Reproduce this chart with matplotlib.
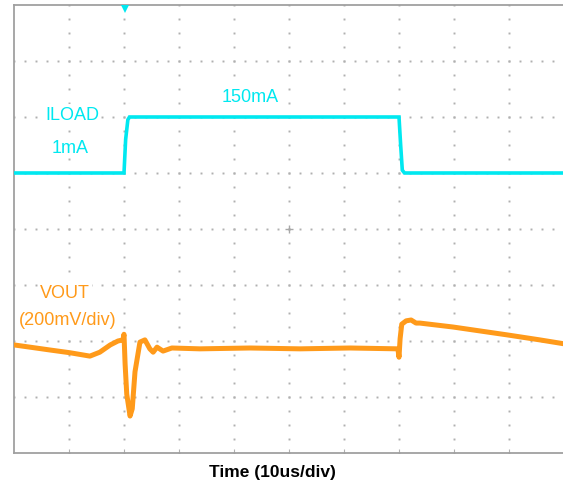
import numpy as np
import matplotlib
matplotlib.use("Agg")
import matplotlib.pyplot as plt

plt.rcParams['font.family'] = ['Liberation Sans', 'DejaVu Sans']

# Time axis in microseconds (10 us/div, 10 divisions)
iload_t = [0.0, 20.0, 20.3, 20.7, 21.0, 70.0, 70.3, 70.6, 71.0, 100.0]
# ILOAD trace in screen divisions (low = 1 mA, high = 150 mA)
iload_v = [5.0, 5.0, 5.6, 5.95, 6.0, 6.0, 5.5, 5.05, 5.0, 5.0]

vout_t = [0.0, 2.9, 6.5, 10.2, 13.8, 15.6, 17.5, 18.9, 19.8, 20.0, 20.2, 20.5,
          21.1, 21.5, 22.0, 22.9, 23.8, 24.7, 25.3, 26.0, 27.1, 28.7, 33.8,
          42.9, 52.0, 61.1, 69.8, 70.0, 70.2, 70.5, 71.3, 72.2, 73.1, 73.8,
          79.8, 89.6, 95.6, 100.0]
# VOUT trace in screen divisions (200 mV/div)
vout_v = [1.93, 1.89, 1.84, 1.79, 1.73, 1.80, 1.93, 2.00, 2.02, 2.12, 1.59, 1.05,
          0.66, 0.79, 1.45, 1.98, 2.02, 1.86, 1.80, 1.89, 1.82, 1.875, 1.86,
          1.875, 1.86, 1.875, 1.86, 1.71, 2.04, 2.30, 2.36, 2.375, 2.32, 2.32,
          2.25, 2.11, 2.02, 1.95]

labels = {
    "150mA": (42.9, 6.375, '#00E8F0'),
    "ILOAD": (10.7, 6.05, '#00E8F0'),
    "1mA": (10.2, 5.45, '#00E8F0'),
    "VOUT": (9.3, 2.86, '#FF9A1A'),
    "(200mV/div)": (9.8, 2.39, '#FF9A1A'),
}
xlabel = "Time (10us/div)"

W, H = 563, 485
fig = plt.figure(figsize=(W / 100, H / 100), dpi=100)
ax = fig.add_axes([14 / W, (H - 454) / H, 550 / W, 448 / H])
ax.set_xlim(0, 100)
ax.set_ylim(0, 8)
ax.set_xticks([])
ax.set_yticks([])
for s in ['left', 'top', 'bottom']:
    ax.spines[s].set_color('#a0a0a0')
    ax.spines[s].set_linewidth(1.3)
ax.spines['right'].set_visible(False)

# dotted graticule
dot = dict(ls='none', marker='s', ms=1.4, mew=0, color='#b0b0b0', zorder=1)
xs = np.arange(0, 100.01, 2)
for gy in range(1, 8):
    ax.plot(xs, np.full_like(xs, gy), **dot)
ys = np.arange(0, 8.01, 0.25)
for gx in range(10, 100, 10):
    ax.plot(np.full_like(ys, gx), ys, **dot)
# small center cross and bottom ticks
ax.plot([50.0], [4.0], ls='none', marker='+', ms=6, mew=1.0, color='#a8a8a8', zorder=1)
ax.plot(np.arange(10, 100, 10), np.full(9, 0.04), ls='none', marker='|', ms=3,
        mew=0.8, color='#b0b0b0', zorder=1)

ax.plot(iload_t, iload_v, color='#00E8F0', lw=2.6, solid_joinstyle='miter', zorder=3)
ax.plot(vout_t, vout_v, color='#FF9A1A', lw=3.6, zorder=3)

# trigger marker
ax.plot([20.1], [7.93], marker='v', ms=6, color='#00E8F0', mew=0, clip_on=False, zorder=4)

for txt, (x, y, c) in labels.items():
    ax.text(x, y, txt, color=c, fontsize=13, ha='center', va='center', zorder=2,
            bbox=dict(facecolor='white', edgecolor='none', pad=1.0))

fig.text(272 / W, 1 - 473 / H, xlabel, fontsize=12.5, ha='center', va='center',
         color='black', fontweight='bold')

fig.savefig('out.png', dpi=100)
